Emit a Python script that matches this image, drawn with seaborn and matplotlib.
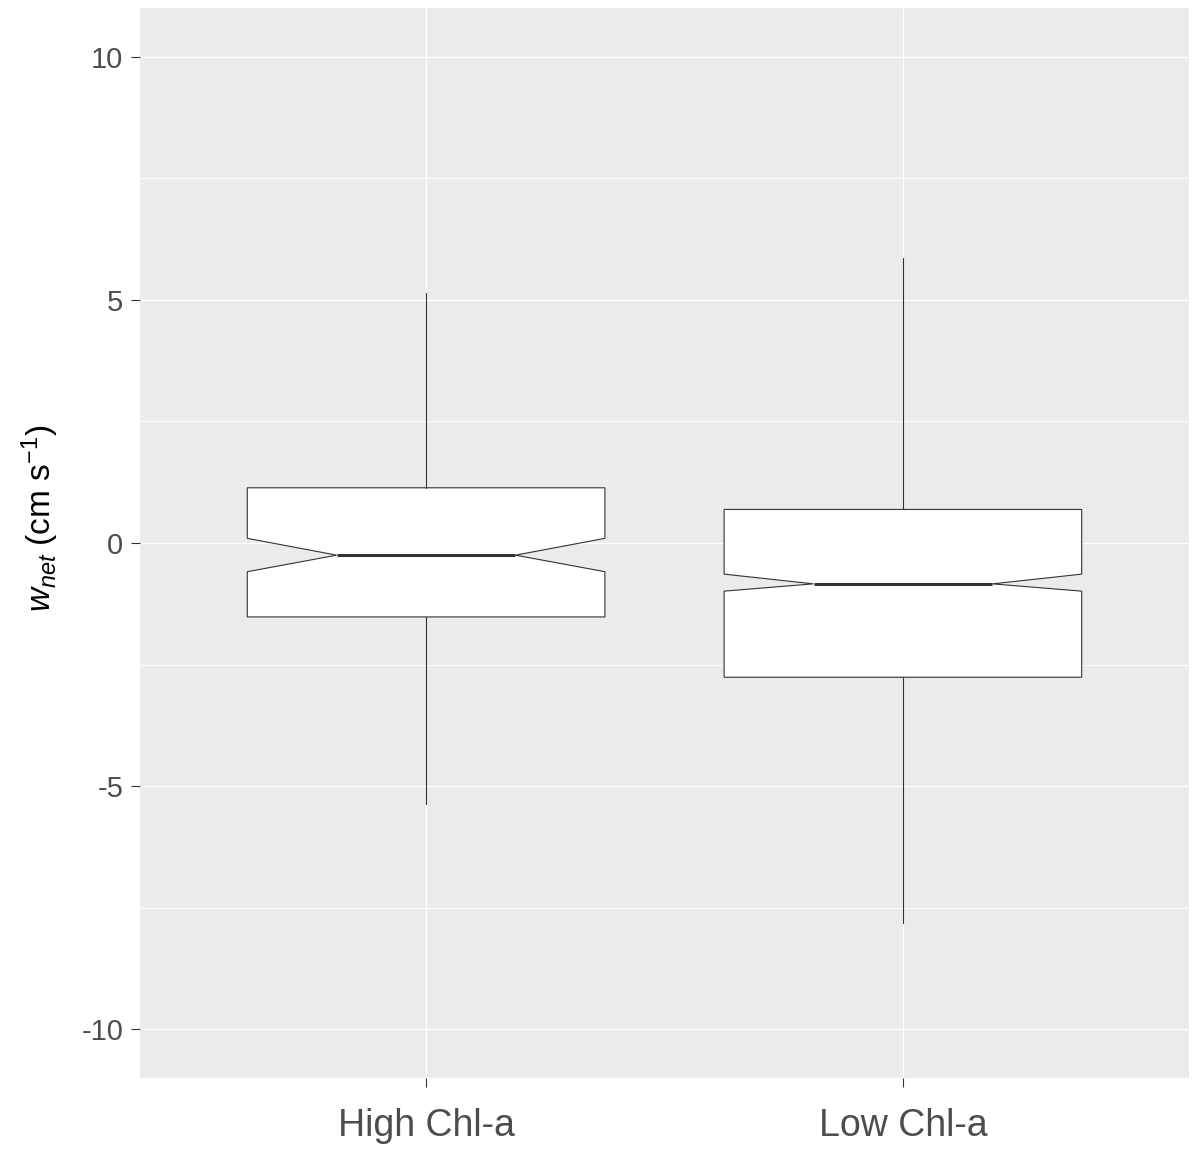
import matplotlib
matplotlib.use("Agg")
import matplotlib.pyplot as plt
import seaborn as sns

# summary values (cm/s)
groups = ["High Chl-a", "Low Chl-a"]
whisker_low = [-5.36, -7.82]
q1 = [-1.52, -2.76]
median = [-0.25, -0.84]
q3 = [1.135, 0.69]
whisker_high = [5.13, 5.87]
notch_low = [-0.59, -0.99]
notch_high = [0.096, -0.64]

sns.set_theme(style="darkgrid", rc={
    "axes.facecolor": "#EBEBEB",
    "grid.color": "white",
    "axes.edgecolor": "#EBEBEB",
})
plt.rcParams["font.family"] = ["Liberation Sans", "DejaVu Sans"]
plt.rcParams["mathtext.fontset"] = "custom"
plt.rcParams["mathtext.rm"] = "Liberation Sans"
plt.rcParams["mathtext.it"] = "Liberation Sans:italic"

stats = []
for i, g in enumerate(groups):
    stats.append({
        "label": g,
        "whislo": whisker_low[i],
        "q1": q1[i],
        "med": median[i],
        "q3": q3[i],
        "whishi": whisker_high[i],
        "cilo": notch_low[i],
        "cihi": notch_high[i],
        "fliers": [],
    })

fig = plt.figure(figsize=(11.92, 11.53), dpi=100)
ax = fig.add_axes([140 / 1192, 75 / 1153, 1049 / 1192, 1070 / 1153])

ax.bxp(stats, positions=[0, 1], widths=0.75, shownotches=True, showcaps=False,
       patch_artist=True, showfliers=False,
       boxprops=dict(facecolor="white", edgecolor="#333333", linewidth=0.8),
       whiskerprops=dict(color="#333333", linewidth=0.8),
       medianprops=dict(color="#333333", linewidth=2.2, solid_capstyle="butt"))

ax.set_xlim(-0.6, 1.6)
ax.set_ylim(-11, 11)
ax.set_yticks([-10, -5, 0, 5, 10])
ax.set_yticklabels(["-10", "-5", "0", "5", "10"])
ax.set_yticks([-7.5, -2.5, 2.5, 7.5], minor=True)
ax.set_xticks([0, 1])
ax.set_xticklabels(groups)

ax.grid(True, which="major", color="white", linewidth=0.9)
ax.grid(True, which="minor", axis="y", color="white", linewidth=0.6)
ax.set_axisbelow(True)
for s in ax.spines.values():
    s.set_visible(False)

ax.tick_params(axis="both", which="major", length=6.5, width=0.8, color="#333333",
               labelcolor="#4D4D4D", left=True, bottom=True)
ax.tick_params(axis="y", which="major", labelsize=21, pad=5.5)
ax.tick_params(axis="x", which="major", labelsize=27, pad=15)
ax.tick_params(which="minor", length=0)

ax.set_ylabel(r"$\mathit{w_{net}}$ (cm s$^{\mathregular{-1}}$)", fontsize=24,
              color="black", va="top")
ax.yaxis.set_label_coords(-0.115, 0.523)
ax.set_xlabel("")

fig.savefig("out.png", dpi=100)
